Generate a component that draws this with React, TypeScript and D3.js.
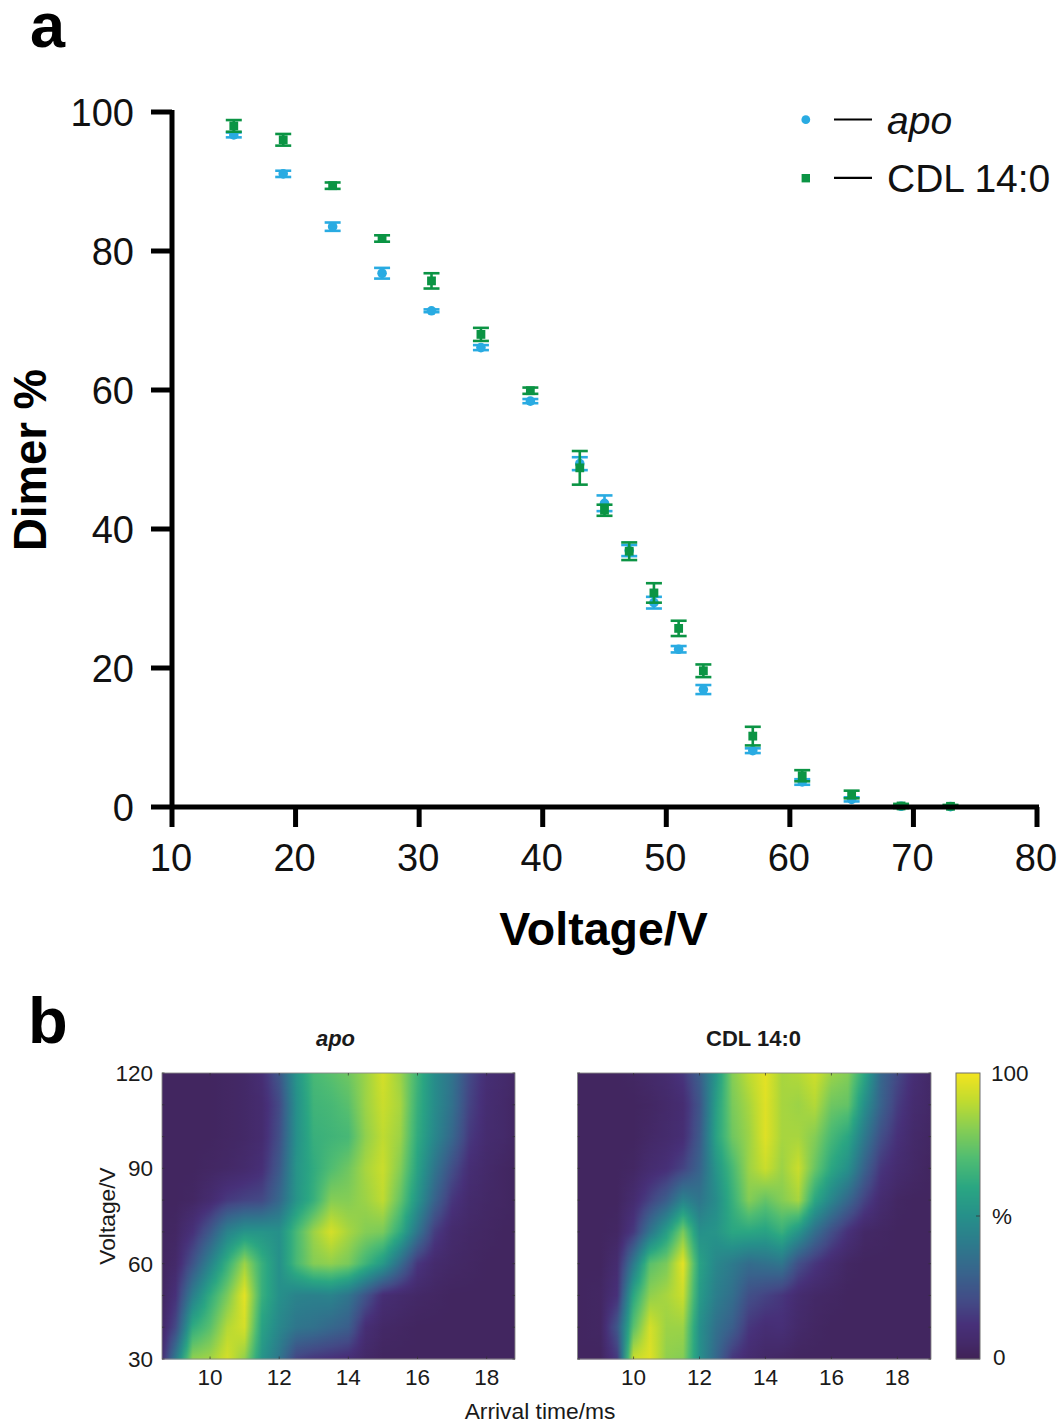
import React from "react";
import * as d3 from "d3";

const voltagesA = [15, 19, 23, 27, 31, 35, 39, 43, 45, 47, 49, 51, 53, 57, 61, 65, 69, 73];
const apoMean = [96.7, 91.1, 83.5, 76.8, 71.4, 66.1, 58.4, 49.4, 43.7, 36.9, 29.4, 22.7, 16.9, 8.1, 3.6, 1.1, 0.1, 0.05];
const apoErr = [0.35, 0.45, 0.6, 0.77, 0.2, 0.36, 0.3, 0.93, 1.13, 0.8, 0.84, 0.46, 0.65, 0.34, 0.4, 0.3, 0.1, 0.1];
const cdlMean = [98.0, 96.0, 89.4, 81.8, 75.7, 68.0, 59.9, 48.8, 42.7, 36.8, 30.8, 25.7, 19.6, 10.2, 4.5, 1.8, 0.15, 0.1];
const cdlErr = [0.84, 0.84, 0.46, 0.46, 1.1, 0.94, 0.45, 2.42, 0.8, 1.27, 1.4, 1.1, 0.91, 1.34, 0.8, 0.55, 0.3, 0.2];
const xTicksA = [10, 20, 30, 40, 50, 60, 70, 80];
const yTicksA = [0, 20, 40, 60, 80, 100];

const heatVoltages = [30, 40, 50, 60, 70, 80, 90, 100, 110, 120];
const apoTimes = [8.6, 9, 9.5, 10, 10.5, 11, 11.5, 12, 12.5, 13, 13.5, 14, 14.5, 15, 15.5, 16, 16.5, 17, 17.5, 18, 18.5, 18.8];
const apoHeat = [
  [8, 40, 82, 85, 94, 82, 52, 38, 18, 14, 12, 10, 5, 3, 3, 3, 3, 3, 3, 3, 3, 3],
  [5, 20, 62, 72, 88, 94, 58, 46, 38, 36, 32, 28, 10, 5, 4, 3, 3, 3, 3, 3, 3, 3],
  [3, 12, 42, 62, 78, 97, 64, 50, 44, 43, 44, 38, 24, 10, 7, 5, 4, 3, 3, 3, 3, 3],
  [3, 6, 24, 44, 64, 84, 64, 50, 68, 80, 82, 78, 66, 54, 34, 14, 7, 5, 4, 3, 3, 3],
  [3, 4, 12, 26, 44, 52, 52, 50, 68, 84, 94, 86, 80, 78, 62, 38, 16, 7, 5, 4, 3, 3],
  [3, 3, 4, 8, 15, 18, 20, 32, 52, 64, 80, 80, 84, 90, 74, 52, 30, 14, 7, 5, 4, 3],
  [3, 3, 3, 4, 5, 7, 11, 26, 52, 62, 70, 76, 86, 92, 80, 58, 38, 22, 10, 6, 4, 3],
  [3, 3, 3, 3, 4, 5, 8, 22, 50, 64, 66, 68, 82, 90, 84, 62, 46, 32, 15, 8, 6, 4],
  [3, 3, 3, 3, 4, 5, 8, 20, 50, 66, 68, 72, 84, 92, 86, 64, 48, 36, 18, 9, 6, 4],
  [3, 3, 3, 3, 4, 5, 10, 25, 52, 68, 72, 76, 84, 94, 84, 66, 48, 37, 20, 10, 7, 5],
];
const cdlTimes = [8.3, 9, 9.5, 10, 10.5, 11, 11.5, 12, 12.5, 13, 13.5, 14, 14.5, 15, 15.5, 16, 16.5, 17, 17.5, 18, 18.5, 19];
const cdlHeat = [
  [3, 3, 15, 92, 96, 82, 80, 50, 32, 14, 8, 5, 4, 3, 3, 3, 3, 3, 3, 3, 3, 3],
  [3, 4, 25, 72, 94, 84, 84, 50, 36, 28, 14, 10, 11, 6, 4, 3, 3, 3, 3, 3, 3, 3],
  [3, 4, 12, 60, 82, 86, 92, 55, 42, 35, 22, 18, 14, 8, 5, 4, 3, 3, 3, 3, 3, 3],
  [3, 3, 8, 40, 72, 78, 97, 58, 46, 40, 34, 36, 38, 22, 14, 8, 4, 3, 3, 3, 3, 3],
  [3, 3, 4, 15, 38, 56, 78, 50, 52, 60, 60, 58, 64, 52, 35, 22, 12, 5, 4, 3, 3, 3],
  [3, 3, 3, 8, 18, 28, 44, 38, 48, 64, 80, 74, 80, 86, 60, 45, 32, 18, 8, 4, 3, 3],
  [3, 3, 3, 4, 8, 11, 18, 30, 52, 68, 84, 92, 84, 92, 75, 60, 50, 30, 14, 8, 5, 3],
  [3, 3, 3, 3, 5, 7, 10, 26, 58, 76, 84, 96, 86, 86, 80, 68, 60, 40, 22, 12, 6, 4],
  [3, 3, 3, 3, 4, 6, 9, 24, 56, 78, 86, 96, 86, 84, 88, 76, 74, 50, 30, 16, 8, 5],
  [3, 3, 3, 4, 6, 8, 14, 28, 52, 80, 90, 97, 86, 88, 93, 84, 80, 60, 32, 20, 10, 5],
];
const heatXTicks = [10, 12, 14, 16, 18];
const heatYLabels = [30, 60, 90, 120];
const heatYMinor = [30, 40, 50, 60, 70, 80, 90, 100, 110, 120];
const rampValues = [0, 6, 12, 20, 30, 40, 50, 60, 70, 80, 90, 100];
const rampColors = ["#402256", "#442a6a", "#473079", "#434a86", "#38638c", "#2d7a8c", "#26908a", "#2aa682", "#4fbc72", "#84cd55", "#bfdb30", "#f3e41f"];

const FONT = "'Liberation Sans', Arial, sans-serif";
const BLUE = "#29abe2";
const GREEN = "#0b9444";

const colorScale = d3.scaleLinear<string>().domain(rampValues).range(rampColors).interpolate(d3.interpolateRgb).clamp(true);

const xA = d3.scaleLinear().domain([10, 80]).range([172, 1037]);
const yA = d3.scaleLinear().domain([0, 100]).range([807, 112]);

function sampleMatrix(times: number[], matrix: number[][], t: number, v: number) {
  const ti = d3.scaleLinear().domain(times).range(times.map((_, i) => i)).clamp(true)(t);
  const vi = d3.scaleLinear().domain(heatVoltages).range(heatVoltages.map((_, i) => i)).clamp(true)(v);
  const t0 = Math.min(Math.floor(ti), times.length - 2);
  const v0 = Math.min(Math.floor(vi), heatVoltages.length - 2);
  const a = ti - t0;
  const b = vi - v0;
  const top = matrix[v0][t0] * (1 - a) + matrix[v0][t0 + 1] * a;
  const bot = matrix[v0 + 1][t0] * (1 - a) + matrix[v0 + 1][t0 + 1] * a;
  return top * (1 - b) + bot * b;
}

function ErrorSeries({ means, errs, color, square }: { means: number[]; errs: number[]; color: string; square?: boolean }) {
  return (
    <g>
      {voltagesA.map((v, i) => {
        const cx = xA(v);
        const cy = yA(means[i]);
        const hi = yA(means[i] + errs[i]);
        const lo = yA(means[i] - errs[i]);
        return (
          <g key={v}>
            <line x1={cx} x2={cx} y1={hi} y2={lo} stroke={color} strokeWidth={2.6} />
            <line x1={cx - 8} x2={cx + 8} y1={hi} y2={hi} stroke={color} strokeWidth={2.6} />
            <line x1={cx - 8} x2={cx + 8} y1={lo} y2={lo} stroke={color} strokeWidth={2.6} />
            {square ? (
              <rect x={cx - 4.4} y={cy - 4.4} width={8.8} height={8.8} fill={color} />
            ) : (
              <circle cx={cx} cy={cy} r={4.8} fill={color} />
            )}
          </g>
        );
      })}
    </g>
  );
}

function Heatmap({ id, times, matrix, domain, left, right, showY, title, titleX, italic }: {
  id: string; times: number[]; matrix: number[][]; domain: [number, number]; left: number; right: number; showY: boolean; title: string; titleX: number; italic?: boolean;
}) {
  const top = 1073;
  const bottom = 1359;
  const x = d3.scaleLinear().domain(domain).range([left, right]);
  const y = d3.scaleLinear().domain([30, 120]).range([bottom, top]);
  const rows = d3.range(top, bottom);
  const columns = times.flatMap((t, i) =>
    i === times.length - 1 ? [t] : [t, t + (times[i + 1] - t) / 3, t + (2 * (times[i + 1] - t)) / 3]
  );
  const sweep = [domain[0], ...columns.filter((t) => t > domain[0] && t < domain[1]), domain[1]];
  return (
    <g>
      <defs>
        {rows.map((py) => (
          <linearGradient key={py} id={`${id}-${py}`} gradientUnits="objectBoundingBox">
            {sweep.map((t, i) => (
              <stop key={i} offset={(x(t) - left) / (right - left)} stopColor={colorScale(sampleMatrix(times, matrix, t, y.invert(py + 0.5)))} />
            ))}
          </linearGradient>
        ))}
      </defs>
      {rows.map((py) => (
        <rect key={py} x={left} y={py} width={right - left} height={1.4} fill={`url(#${id}-${py})`} />
      ))}
      <rect x={left} y={top} width={right - left} height={bottom - top} fill="none" stroke="#8a8a8a" strokeWidth={0.9} />
      {heatXTicks.map((t) => (
        <g key={t}>
          <line x1={x(t)} x2={x(t)} y1={bottom} y2={bottom - 2.5} stroke="#333" strokeWidth={0.7} />
          <line x1={x(t)} x2={x(t)} y1={top} y2={top + 2.5} stroke="#333" strokeWidth={0.7} />
          <text x={x(t)} y={1385} textAnchor="middle" fontSize={22.5} fill="#1a1a1a">{t}</text>
        </g>
      ))}
      {heatYMinor.map((v) => (
        <g key={v}>
          <line x1={left} x2={left + 2.5} y1={y(v)} y2={y(v)} stroke="#333" strokeWidth={0.7} />
          <line x1={right} x2={right - 2.5} y1={y(v)} y2={y(v)} stroke="#333" strokeWidth={0.7} />
        </g>
      ))}
      {showY && heatYLabels.map((v) => (
        <text key={v} x={153} y={y(v) + 8} textAnchor="end" fontSize={22.5} fill="#1a1a1a">{v}</text>
      ))}
      <text x={titleX} y={1046} textAnchor="middle" fontSize={22} fontWeight="bold" fontStyle={italic ? "italic" : "normal"} fill="#1a1a1a">{title}</text>
    </g>
  );
}

export default function App() {
  const cbTop = 1073;
  const cbBottom = 1359;
  const cbY = d3.scaleLinear().domain([0, 100]).range([cbBottom, cbTop]);
  return (
    <svg width={1060} height={1423} viewBox="0 0 1060 1423" style={{ position: "absolute", left: 0, top: 0, background: "#fff" }} fontFamily={FONT}>
      <text x={30} y={47} fontSize={63} fontWeight="bold">a</text>
      <text x={28} y={1043} fontSize={65} fontWeight="bold">b</text>

      {/* Panel a */}
      <ErrorSeries means={apoMean} errs={apoErr} color={BLUE} />
      <ErrorSeries means={cdlMean} errs={cdlErr} color={GREEN} square />
      <line x1={172} x2={172} y1={110} y2={809} stroke="#000" strokeWidth={5} />
      <line x1={170} x2={1039} y1={807} y2={807} stroke="#000" strokeWidth={5} />
      {yTicksA.map((t) => (
        <g key={t}>
          <line x1={151} x2={172} y1={yA(t)} y2={yA(t)} stroke="#000" strokeWidth={5} />
          <text x={134} y={yA(t) + 14} textAnchor="end" fontSize={38} fill="#111">{t}</text>
        </g>
      ))}
      {xTicksA.map((t) => (
        <g key={t}>
          <line x1={xA(t)} x2={xA(t)} y1={807} y2={827} stroke="#000" strokeWidth={5} />
          <text x={xA(t) - 1} y={871} textAnchor="middle" fontSize={38} fill="#111">{t}</text>
        </g>
      ))}
      <text x={603.5} y={945} textAnchor="middle" fontSize={46.5} fontWeight="bold">Voltage/V</text>
      <text transform="translate(46,460) rotate(-90)" textAnchor="middle" fontSize={45.5} fontWeight="bold">Dimer %</text>

      {/* Legend */}
      <circle cx={805.8} cy={119.7} r={4.4} fill={BLUE} />
      <line x1={834} x2={872} y1={119.5} y2={119.5} stroke="#000" strokeWidth={2.2} />
      <text x={887} y={134} fontSize={39} fontStyle="italic" fill="#111">apo</text>
      <rect x={801.6} y={174} width={8.4} height={8.4} fill={GREEN} />
      <line x1={834} x2={872} y1={177.8} y2={177.8} stroke="#000" strokeWidth={2.2} />
      <text x={887} y={192} fontSize={39} fill="#111">CDL 14:0</text>

      {/* Panel b */}
      <Heatmap id="apo" times={apoTimes} matrix={apoHeat} domain={[8.61, 18.82]} left={162} right={515} showY title="apo" titleX={335.5} italic />
      <Heatmap id="cdl" times={cdlTimes} matrix={cdlHeat} domain={[8.3, 19.02]} left={577.5} right={931} showY={false} title="CDL 14:0" titleX={753.5} />
      <text transform="translate(115,1216) rotate(-90)" textAnchor="middle" fontSize={22.8} fill="#1a1a1a">Voltage/V</text>
      <text x={540} y={1419} textAnchor="middle" fontSize={22.8} fill="#1a1a1a">Arrival time/ms</text>

      {/* Colourbar */}
      {d3.range(cbTop, cbBottom).map((py) => (
        <rect key={py} x={956} y={py} width={24} height={1.4} fill={colorScale(cbY.invert(py + 0.5))} />
      ))}
      <rect x={956} y={cbTop} width={24} height={cbBottom - cbTop} fill="none" stroke="#6f6f6f" strokeWidth={1} />
      <line x1={980} x2={976} y1={cbY(50)} y2={cbY(50)} stroke="#333" strokeWidth={0.8} />
      <text x={991} y={1081} fontSize={22.5} fill="#1a1a1a">100</text>
      <text x={992} y={1224} fontSize={22.5} fill="#1a1a1a">%</text>
      <text x={993} y={1365} fontSize={22.5} fill="#1a1a1a">0</text>
    </svg>
  );
}
